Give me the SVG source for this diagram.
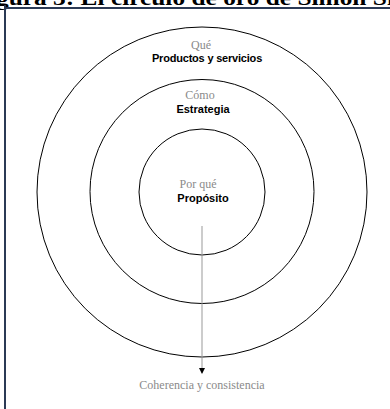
<svg xmlns="http://www.w3.org/2000/svg" width="390" height="409" viewBox="0 0 390 409">
<style>
.ring{fill:none;stroke:#000;stroke-width:1}
.q{font-family:"Liberation Serif","Times New Roman",serif;font-size:12px;fill:#8a8a8a;text-anchor:middle}
.b{font-family:"Liberation Sans",Arial,sans-serif;font-size:11px;font-weight:bold;fill:#000;text-anchor:middle}
.frame{stroke:#2b3a55;stroke-width:2;fill:none}
</style>
<defs>
<marker id="ah" markerWidth="6" markerHeight="6" refX="5" refY="3" orient="auto" markerUnits="userSpaceOnUse">
<path d="M0,0 L6,3 L0,6 Z" fill="#000"/>
</marker>
</defs>
<rect width="390" height="409" fill="#fff"/>
<text x="-4" y="5" font-family="'Liberation Serif',serif" font-size="20" font-weight="bold" textLength="398" lengthAdjust="spacingAndGlyphs">gura 3: El círculo de oro de Simon Si</text>
<g id="frame">
<path class="frame" d="M5,8 L390,8 M5,5 L5,409"/>
</g>
<g id="outer">
<circle class="ring" cx="202" cy="192" r="165"/>
<text class="q" x="201" y="49">Qué</text>
<text class="b" x="207" y="62" letter-spacing="-0.2">Productos y servicios</text>
</g>
<g id="middle">
<circle class="ring" cx="202" cy="191.5" r="112"/>
<text class="q" x="200" y="99">Cómo</text>
<text class="b" x="203" y="113">Estrategia</text>
</g>
<g id="inner">
<circle class="ring" cx="202" cy="192" r="63"/>
<text class="q" x="198" y="188">Por qué</text>
<text class="b" x="203" y="202">Propósito</text>
</g>
<g id="connectors">
<line x1="202" y1="226" x2="202" y2="373" stroke="#999" stroke-width="1" marker-end="url(#ah)"/>
</g>
<g id="result">
<text class="q" x="202" y="389">Coherencia y consistencia</text>
</g>
</svg>
